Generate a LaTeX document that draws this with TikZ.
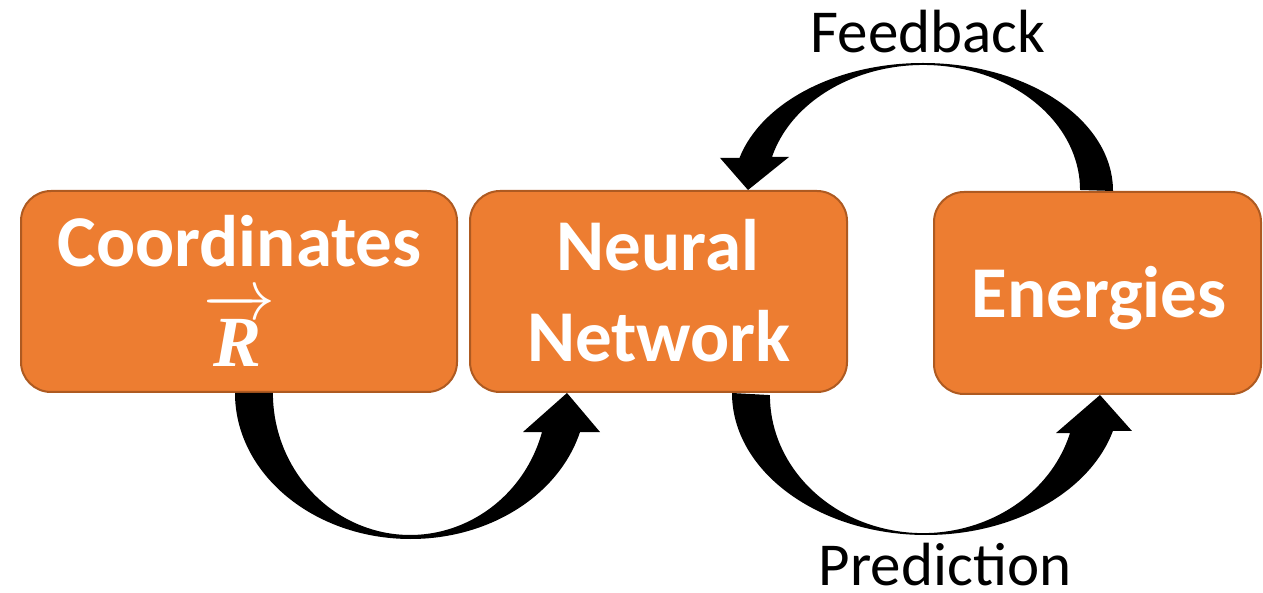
\RequirePackage{fix-cm}
\documentclass[tikz,border=0pt]{standalone}
\usepackage{fontspec}
\usepackage{amsmath}
\setmainfont{Carlito}
\newfontfamily\vecfont{Liberation Serif}
\usetikzlibrary{calc}
\definecolor{boxfill}{HTML}{ED7D31}
\definecolor{boxline}{HTML}{AE5A21}
\tikzset{
  stagebox/.style={draw=boxline, fill=boxfill, line width=2pt, rounded corners=30pt, inner sep=0pt},
  boxtext/.style={text=white, anchor=base, inner sep=0pt, font=\fontsize{73}{88}\selectfont\bfseries},
  flowlabel/.style={text=black, anchor=base, inner sep=0pt, font=\fontsize{61}{73}\selectfont},
  blockarrow/.style={fill=black, draw=none}
}
\begin{document}
\begin{tikzpicture}[x=1pt, y=1pt]
  \useasboundingbox (0,0) rectangle (1263,592);

  % the three stages
  \node[stagebox, minimum width=436pt, minimum height=201pt] (coord) at (239,300.5) {};
  \node[stagebox, minimum width=377pt, minimum height=201pt] (nn) at (658.5,300.5) {};
  \node[stagebox, minimum width=327pt, minimum height=202pt] (en) at (1097.5,299) {};

  % stage captions
  \node[boxtext] (coordtxt) at (239.5,325) {Coordinates};
  \node[text=white, anchor=base, inner sep=0pt, font=\fontsize{72}{86}\selectfont] (rvec) at (239.5,225)
    {$\overrightarrow{\text{\vecfont\bfseries\itshape R\kern3pt}}$};
  \node[boxtext] (nntxta) at (658,321) {Neural};
  \node[boxtext] (nntxtb) at (659,230) {Network};
  \node[boxtext] (entxt) at (1099,274) {Energies};

  % Coordinates -> Neural Network
  \fill[blockarrow] ([xshift=-4pt]coord.south)
    arc[start angle=180, end angle=344.5, x radius=175.7, y radius=146]
    -- ++(20,0)
    -- ([xshift=-91.5pt]nn.south)
    -- ([xshift=-135.5pt, yshift=-39pt]nn.south)
    -- ++(19,0)
    arc[start angle=344.04, end angle=180, x radius=137.2, y radius=142]
    -- cycle;

  % Neural Network -> Energies
  \fill[blockarrow] ([xshift=73.5pt]nn.south)
    arc[start angle=180, end angle=344.5, x radius=194, y radius=142]
    -- ++(19,0)
    -- ([xshift=2.5pt]en.south)
    -- ([xshift=-41.5pt, yshift=-38pt]en.south)
    -- ++(14,0)
    arc[start angle=344.05, end angle=180, x radius=153, y radius=138]
    -- cycle;

  % Energies -> Neural Network (feedback)
  \fill[blockarrow] ([xshift=15.5pt]en.north)
    arc[start angle=0, end angle=165, x radius=190, y radius=128]
    -- ++(-19.5,0)
    -- ([xshift=89.5pt]nn.north)
    -- ([xshift=130.5pt, yshift=33pt]nn.north)
    -- ++(-17,0)
    arc[start angle=164.7, end angle=0, x radius=156.8, y radius=125]
    -- cycle;

  % loop labels
  \node[flowlabel] (fb) at (928,539) {Feedback};
  \node[flowlabel] (pred) at (945,7) {Prediction};
\end{tikzpicture}
\end{document}
